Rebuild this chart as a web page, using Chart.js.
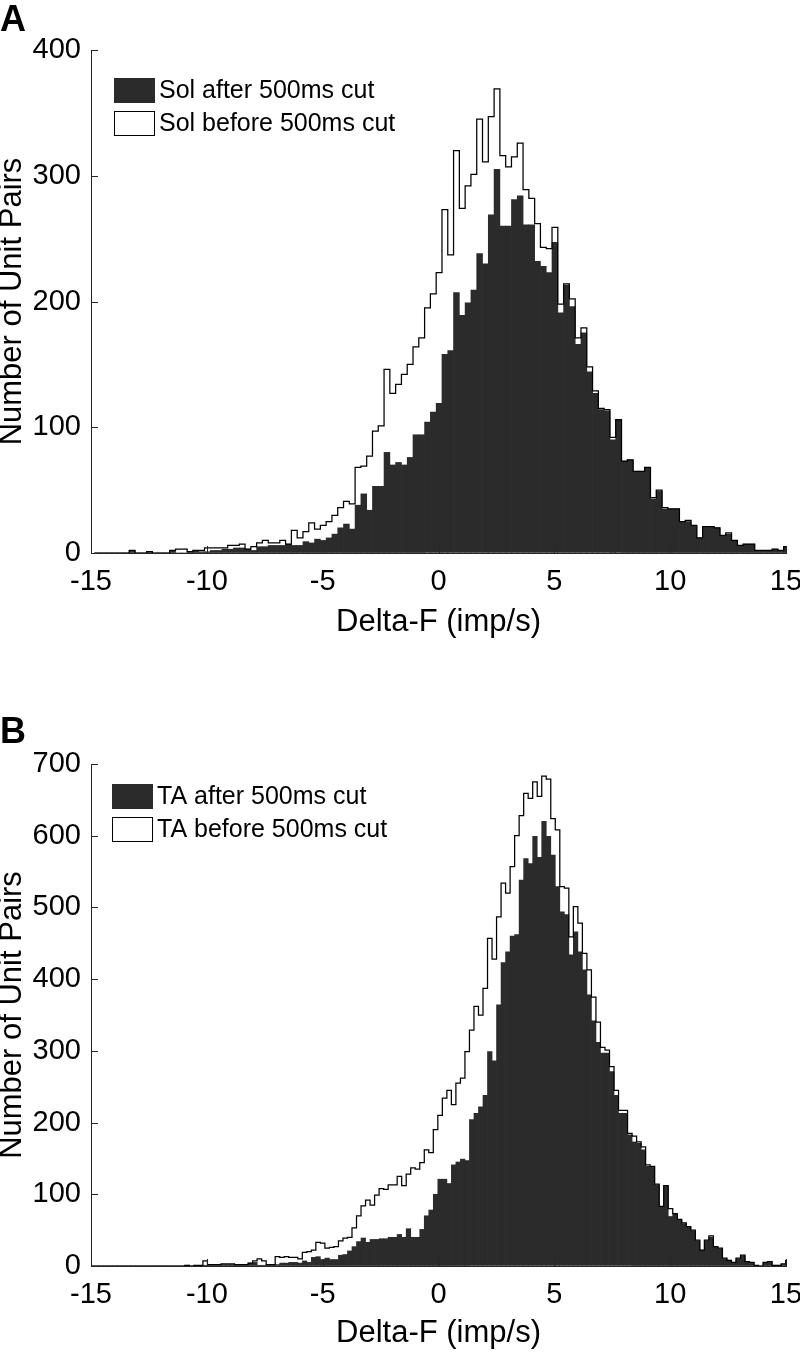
<!DOCTYPE html>
<html>
<head>
<meta charset="utf-8">
<title>Delta-F histograms</title>
<script src="https://cdn.jsdelivr.net/npm/chart.js@4.4.1/dist/chart.umd.min.js"></script>
<style>
  html, body { margin: 0; padding: 0; background: #fff; }
  .panel { width: 800px; height: 676px; }
  canvas { display: block; }
</style>
</head>
<body>
<div class="panel"><canvas id="chartA" width="800" height="676"></canvas></div>
<div class="panel"><canvas id="chartB" width="800" height="676"></canvas></div>
<script>
// --- data (counts per bin) ---
const xTicks = [-15, -10, -5, 0, 5, 10, 15];
const yTicksA = [0, 100, 200, 300, 400];
const yTicksB = [0, 100, 200, 300, 400, 500, 600, 700];

// panel A: Sol, bins of 0.25 starting at -14.85
const binStartA = -14.85;
const binWidthA = 0.25;
const solAfter = [
  0, 0, 0, 0, 0, 0, 2, 0, 0, 1,
  0, 0, 0, 2, 0, 0, 1, 2, 1, 1,
  2, 2, 3, 3, 4, 4, 3, 2, 5, 5,
  6, 6, 6, 7, 6, 6, 9, 8, 11, 10,
  12, 15, 20, 23, 19, 38, 47, 34, 53, 53,
  80, 70, 72, 70, 76, 94, 94, 104, 112, 119,
  158, 161, 207, 189, 199, 209, 238, 230, 269, 305,
  260, 260, 281, 284, 261, 261, 232, 228, 223, 247,
  191, 213, 196, 166, 175, 144, 127, 114, 113, 90,
  106, 73, 74, 65, 65, 68, 43, 49, 35, 35,
  35, 25, 25, 22, 12, 21, 21, 20, 14, 15,
  10, 6, 7, 7, 2, 2, 2, 3, 2, 5
];
const solBefore = [
  0, 0, 0, 0, 0, 0, 2, 0, 0, 1,
  0, 0, 0, 2, 3, 3, 1, 2, 2, 4,
  4, 4, 4, 6, 6, 7, 3, 5, 8, 10,
  8, 8, 10, 7, 18, 12, 17, 24, 19, 22,
  25, 30, 36, 41, 39, 68, 69, 77, 97, 101,
  146, 127, 134, 142, 150, 164, 171, 195, 206, 223,
  273, 237, 320, 274, 292, 301, 345, 311, 347, 369,
  316, 307, 315, 326, 289, 282, 262, 243, 242, 259,
  198, 214, 202, 171, 179, 148, 129, 115, 114, 92,
  106, 73, 74, 65, 65, 68, 44, 50, 36, 35,
  35, 25, 26, 22, 12, 21, 21, 20, 14, 16,
  10, 6, 7, 7, 2, 2, 2, 3, 2, 5
];

// panel B: TA, bins of 0.195 starting at -15.044
const binStartB = -15.044;
const binWidthB = 0.195;
const taAfter = [
  0, 0, 0, 0, 0, 0, 0, 0, 0, 0,
  0, 0, 0, 0, 0, 0, 0, 0, 0, 0,
  0, 1, 0, 0, 0, 1, 1, 1, 1, 2,
  2, 2, 2, 1, 2, 4, 5, 1, 1, 2,
  2, 2, 4, 4, 5, 5, 4, 7, 5, 12,
  13, 9, 11, 9, 9, 15, 16, 21, 27, 34,
  39, 33, 37, 37, 38, 38, 40, 40, 44, 40,
  52, 40, 40, 51, 70, 78, 100, 121, 121, 115,
  141, 145, 149, 147, 204, 213, 222, 238, 299, 286,
  364, 423, 438, 460, 462, 538, 568, 561, 599, 570,
  620, 599, 573, 529, 494, 490, 434, 466, 438, 413,
  378, 342, 312, 297, 297, 271, 238, 213, 213, 183,
  173, 171, 162, 139, 138, 113, 82, 111, 69, 72,
  64, 59, 54, 49, 35, 22, 35, 40, 26, 24,
  10, 8, 4, 10, 14, 6, 4, 1, 0, 4,
  5, 1, 1, 2, 7
];
const taBefore = [
  0, 0, 0, 0, 0, 0, 0, 0, 0, 0,
  0, 0, 0, 0, 0, 0, 0, 0, 0, 0,
  0, 1, 0, 1, 1, 7, 2, 2, 2, 3,
  3, 3, 2, 2, 2, 4, 7, 10, 7, 2,
  2, 13, 12, 13, 12, 12, 10, 19, 20, 22,
  33, 32, 25, 26, 27, 35, 39, 40, 53, 70,
  84, 92, 85, 99, 108, 107, 113, 113, 125, 112,
  128, 137, 135, 144, 162, 158, 190, 210, 234, 245,
  225, 255, 262, 299, 329, 362, 350, 387, 457, 428,
  487, 534, 520, 557, 600, 628, 659, 652, 675, 655,
  683, 679, 624, 608, 529, 527, 459, 501, 478, 436,
  413, 375, 340, 305, 301, 278, 245, 217, 217, 185,
  181, 173, 166, 141, 139, 114, 83, 112, 80, 73,
  65, 60, 55, 50, 36, 22, 36, 42, 27, 25,
  11, 8, 5, 11, 15, 6, 5, 1, 0, 5,
  6, 1, 1, 3, 8
];

// --- styles ---
const FONT = "'Liberation Sans', Arial, Helvetica, sans-serif";
const INK = '#000000';
const AXIS = '#262626';
const DARK = '#2b2b2b';

// bar centres for the filled histogram
function barPoints(start, width, counts) {
  return counts.map((c, i) => ({ x: start + width * (i + 0.5), y: c }));
}

// outline of the "before" histogram: one flat top per bin
function stairPoints(start, width, counts) {
  const pts = [{ x: start, y: 0 }];
  counts.forEach((c, i) => {
    pts.push({ x: start + width * i, y: c });
    pts.push({ x: start + width * (i + 1), y: c });
  });
  pts.push({ x: start + width * counts.length, y: 0 });
  return pts;
}

// ticks pointing into the plot, MATLAB style
const inwardTicks = {
  id: 'inwardTicks',
  afterDraw(chart) {
    const { ctx, chartArea: a, scales: { x, y } } = chart;
    ctx.save();
    ctx.strokeStyle = AXIS;
    ctx.lineWidth = 1;
    ctx.beginPath();
    x.ticks.forEach(t => {
      const px = Math.round(x.getPixelForValue(t.value)) + 0.5;
      ctx.moveTo(px, a.bottom);
      ctx.lineTo(px, a.bottom - 7);
    });
    y.ticks.forEach(t => {
      const py = Math.round(y.getPixelForValue(t.value)) + 0.5;
      ctx.moveTo(a.left, py);
      ctx.lineTo(a.left + 7, py);
    });
    ctx.stroke();
    ctx.restore();
  }
};

// legend drawn inside the axes, top left
const insideLegend = {
  id: 'insideLegend',
  afterDraw(chart, args, opts) {
    const ctx = chart.ctx;
    ctx.save();
    ctx.font = '25px ' + FONT;
    ctx.textBaseline = 'middle';
    chart.data.datasets.forEach((ds, i) => {
      const bx = opts.x;
      const by = opts.y + i * opts.rowH;
      if (ds.type === 'bar') {
        ctx.fillStyle = ds.backgroundColor;
        ctx.fillRect(bx, by, opts.boxW, opts.boxH);
      } else {
        ctx.fillStyle = '#fff';
        ctx.fillRect(bx, by, opts.boxW, opts.boxH);
        ctx.strokeStyle = ds.borderColor;
        ctx.lineWidth = 1;
        ctx.strokeRect(bx + 0.5, by + 0.5, opts.boxW - 1, opts.boxH - 1);
      }
      ctx.fillStyle = INK;
      ctx.fillText(ds.label, bx + opts.boxW + 4, by + opts.boxH / 2 + 1);
    });
    ctx.restore();
  }
};

// big bold panel letter
const panelLetter = {
  id: 'panelLetter',
  afterDraw(chart, args, opts) {
    const ctx = chart.ctx;
    ctx.save();
    ctx.font = 'bold 36px ' + FONT;
    ctx.fillStyle = INK;
    ctx.textBaseline = 'alphabetic';
    ctx.fillText(opts.text, opts.x, opts.y);
    ctx.restore();
  }
};

function makePanel(id, p) {
  return new Chart(document.getElementById(id), {
    type: 'bar',
    data: {
      datasets: [
        {
          type: 'bar',
          label: p.afterLabel,
          data: barPoints(p.binStart, p.binWidth, p.after),
          backgroundColor: DARK,
          borderWidth: 0,
          barPercentage: 1,
          categoryPercentage: 1,
          inflateAmount: 0.35,
          order: 2
        },
        {
          type: 'line',
          label: p.beforeLabel,
          data: stairPoints(p.binStart, p.binWidth, p.before),
          borderColor: '#000',
          backgroundColor: '#fff',
          borderWidth: 1.25,
          pointRadius: 0,
          fill: false,
          tension: 0,
          order: 1
        }
      ]
    },
    options: {
      responsive: false,
      animation: false,
      events: [],
      layout: { padding: { left: 0, right: 14, top: p.top, bottom: 0 } },
      plugins: {
        legend: { display: false },
        tooltip: { enabled: false },
        insideLegend: { x: p.legendX, y: p.legendY, boxW: 41, boxH: 25, rowH: 33 },
        panelLetter: { text: p.letter, x: 0, y: p.letterY }
      },
      scales: {
        x: {
          type: 'linear',
          min: -15,
          max: 15,
          offset: false,
          afterBuildTicks: s => { s.ticks = xTicks.map(v => ({ value: v })); },
          afterFit: s => { s.height = p.xAxisHeight; s.paddingLeft = 0; s.paddingRight = 0; },
          grid: { display: true, drawOnChartArea: false, drawTicks: false },
          border: { display: true, color: AXIS, width: 1 },
          ticks: {
            color: INK,
            font: { family: FONT, size: 29 },
            padding: 12,
            maxRotation: 0,
            autoSkip: false,
            callback: v => String(v)
          },
          title: {
            display: true,
            text: 'Delta-F (imp/s)',
            color: INK,
            font: { family: FONT, size: 31, lineHeight: 0.83 },
            padding: { top: 0, bottom: p.xTitlePad }
          }
        },
        y: {
          type: 'linear',
          min: 0,
          max: p.yMax,
          afterBuildTicks: s => { s.ticks = p.yTicks.map(v => ({ value: v })); },
          afterFit: s => { s.width = 91; s.paddingTop = 0; s.paddingBottom = 0; },
          grid: { display: true, drawOnChartArea: false, drawTicks: false },
          border: { display: true, color: AXIS, width: 1 },
          ticks: {
            color: INK,
            font: { family: FONT, size: 29 },
            padding: 10,
            callback: v => String(v)
          },
          title: {
            display: true,
            text: 'Number of Unit Pairs',
            color: INK,
            font: { family: FONT, size: 31, lineHeight: 0.83 },
            padding: { top: 0, bottom: 0 }
          }
        }
      }
    },
    plugins: [inwardTicks, insideLegend, panelLetter]
  });
}

makePanel('chartA', {
  letter: 'A', letterY: 31,
  after: solAfter, before: solBefore,
  binStart: binStartA, binWidth: binWidthA,
  afterLabel: 'Sol after 500ms cut', beforeLabel: 'Sol before 500ms cut',
  yMax: 400, yTicks: yTicksA,
  top: 50, xAxisHeight: 123, xTitlePad: 41,
  legendX: 114, legendY: 78
});

makePanel('chartB', {
  letter: 'B', letterY: 67,
  after: taAfter, before: taBefore,
  binStart: binStartB, binWidth: binWidthB,
  afterLabel: 'TA after 500ms cut', beforeLabel: 'TA before 500ms cut',
  yMax: 700, yTicks: yTicksB,
  top: 88, xAxisHeight: 86, xTitlePad: 6,
  legendX: 112, legendY: 108
});
</script>
</body>
</html>
